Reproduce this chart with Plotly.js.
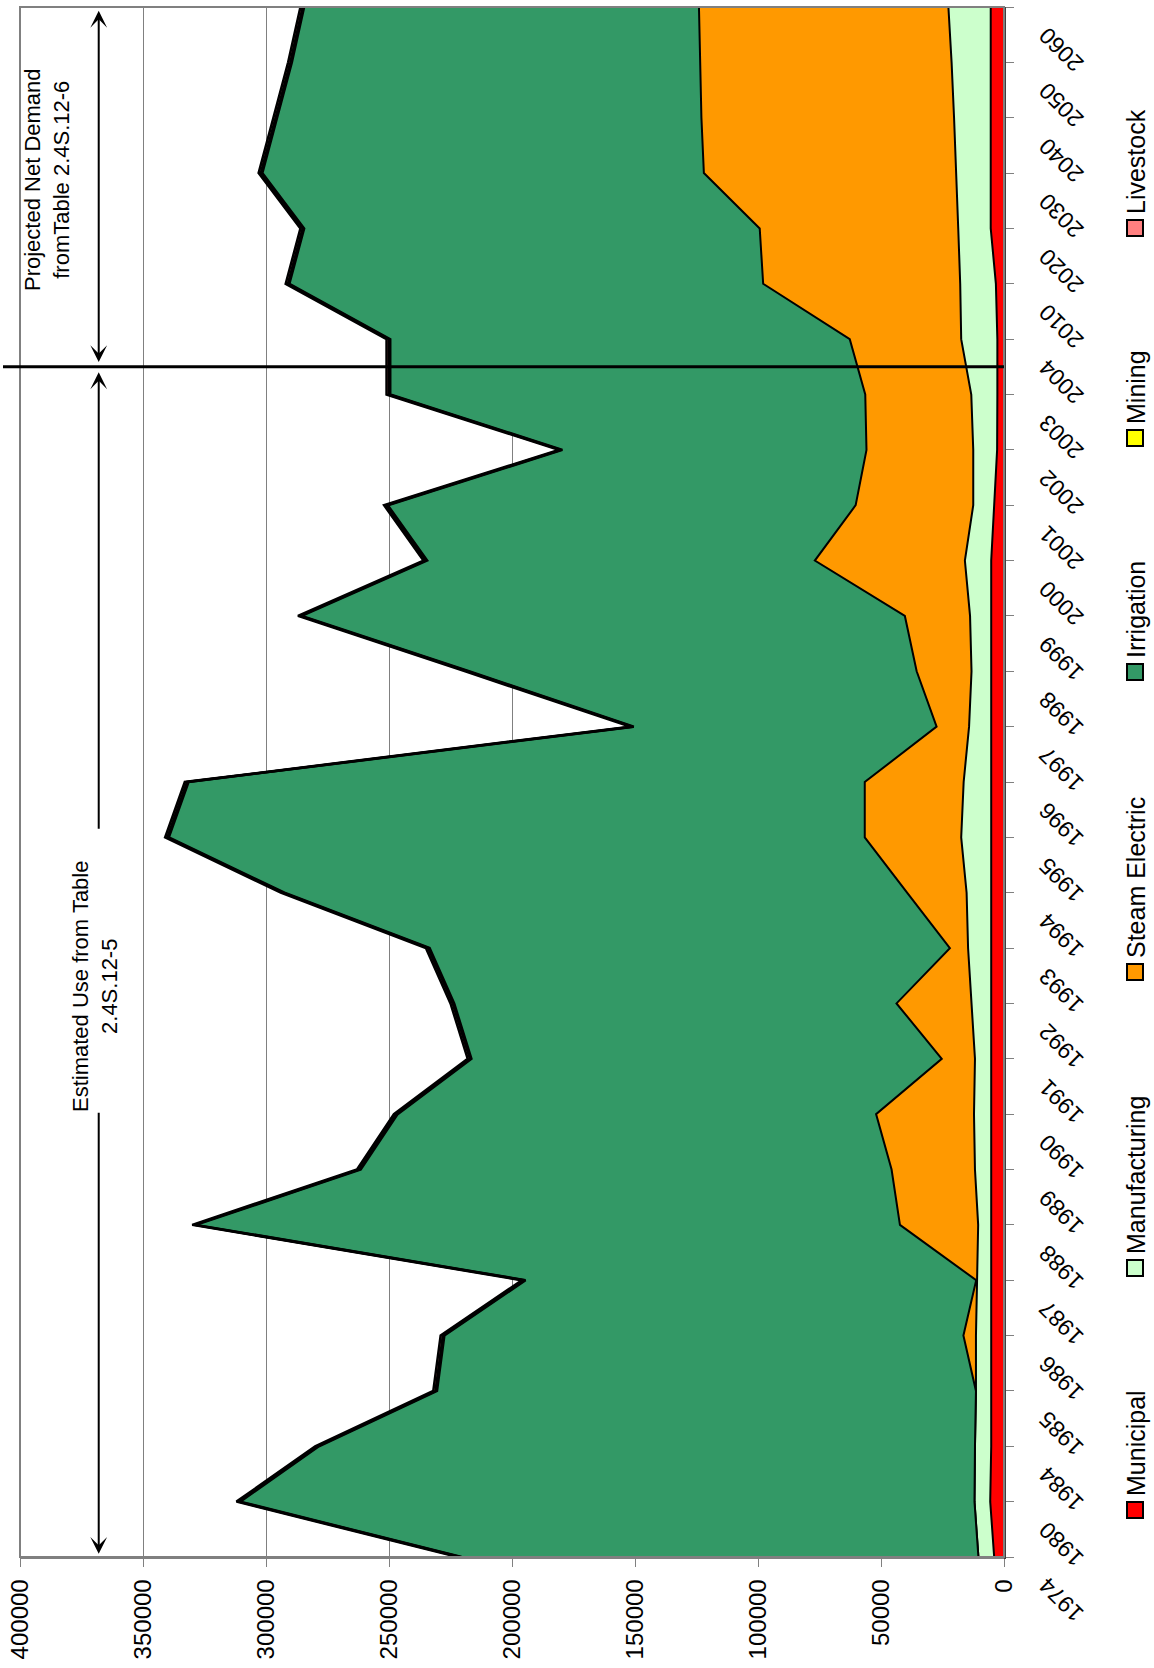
<!DOCTYPE html>
<html>
<head>
<meta charset="utf-8">
<script src="https://cdn.plot.ly/plotly-3.0.1.min.js"></script>
<style>
  html, body { margin: 0; padding: 0; background: #fff; }
  body { width: 1154px; height: 1668px; overflow: hidden; position: relative; }
  /* the chart is laid out in landscape and turned a quarter turn counter-clockwise */
  #chart {
    position: absolute; left: 0; top: 0;
    width: 1668px; height: 1154px;
    transform-origin: 0 0;
    transform: translate(0px, 1668px) rotate(-90deg);
  }
</style>
</head>
<body>
<div id="chart"></div>
<script>
// Water use by category (acre-feet), estimated 1974-2004 and projected 2010-2060
const years = ['1974','1980','1984','1985','1986','1987','1988','1989','1990','1991',
               '1992','1993','1994','1995','1996','1997','1998','1999','2000','2001',
               '2002','2003','2004','2010','2020','2030','2040','2050','2060'];

const municipal = [4000,5600,5200,5200,5200,5200,5200,5200,5200,5200,
                   5200,5200,5200,5200,5200,5200,5200,5200,5200,4000,
                   2800,2700,2700,3300,5400,5400,5400,5400,5400];

const manufacturing = [6400,6400,6600,6200,6200,5600,5300,6600,7000,6600,
                       8100,9400,10000,12200,11200,9000,8000,8600,10700,8500,
                       9700,10600,14700,14500,13200,13900,14900,15900,17200];

const steamElectric = [0,0,0,0,5100,500,31800,33900,39800,13500,
                       30400,7400,24200,39200,40200,13200,22300,26500,61000,47800,
                       43400,43100,45300,80100,80700,102700,102700,102200,101400];

const irrigation = [210100,298500,266700,219100,211000,183200,286200,215800,194500,191200,
                    179800,211500,253100,282900,274900,123100,182000,245200,157600,190200,
                    123600,193100,186800,192600,185200,179500,172500,166000,160500];

const mining = [600,600,600,600,600,600,600,600,600,600,
                600,600,600,600,600,600,600,600,600,600,
                600,600,600,600,600,600,600,600,600];

const livestock = [900,900,900,900,900,900,900,900,900,900,
                   900,900,900,900,900,900,900,900,900,900,
                   900,900,900,900,900,900,900,900,900];

const seriesNames = ['Municipal','Manufacturing','Steam Electric','Irrigation','Mining','Livestock'];
const seriesColors = ['#FF0000','#CCFFCC','#FF9900','#339966','#FFFF00','#FF8080'];
const seriesValues = [municipal, manufacturing, steamElectric, irrigation, mining, livestock];
const borderWidths = [2, 2, 2, 2.5, 2.5, 2.5];

const traces = seriesValues.map((vals, k) => ({
  type: 'scatter',
  mode: 'lines',
  name: seriesNames[k],
  x: years,
  y: vals,
  stackgroup: 'use',
  fillcolor: seriesColors[k],
  line: { color: '#000000', width: borderWidths[k], shape: 'linear' },
  hoverinfo: 'skip'
}));

// landscape geometry
const W = 1668, H = 1154;
const M = { l: 111, r: 7, t: 20, b: 150 };
const plotW = W - M.l - M.r, plotH = H - M.t - M.b;
const px = x => (x - M.l) / plotW;            // pixel x -> paper x
const py = y => (H - M.b - y) / plotH;        // pixel y -> paper y

// legend, laid out by hand below the plot
const legendCenters = [158, 400, 696, 996, 1230, 1440];
const legendY = 1135, sw = 16;
const legendShapes = legendCenters.map((c, k) => ({
  type: 'rect', xref: 'paper', yref: 'paper',
  x0: px(c - sw / 2), x1: px(c + sw / 2),
  y0: py(legendY + sw / 2), y1: py(legendY - sw / 2),
  fillcolor: seriesColors[k], line: { color: '#000', width: 2 }
}));
const legendLabels = legendCenters.map((c, k) => ({
  xref: 'paper', yref: 'paper',
  x: px(c + sw / 2 + 4), y: py(legendY + 1),
  xanchor: 'left', yanchor: 'middle',
  text: seriesNames[k], showarrow: false,
  font: { size: 25, color: '#000' }
}));

const arrowY = 368000;
const arrowStyle = {
  xref: 'x', yref: 'y', axref: 'x', ayref: 'y',
  text: '', showarrow: true, arrowhead: 3, arrowsize: 1.4, arrowwidth: 2,
  arrowcolor: '#000', standoff: 0, startstandoff: 0
};

const annotations = [
  Object.assign({}, arrowStyle, { x: 0.06, y: arrowY, ax: 8.05, ay: arrowY }),
  Object.assign({}, arrowStyle, { x: 21.4, y: arrowY, ax: 13.13, ay: arrowY }),
  Object.assign({}, arrowStyle, { x: 27.93, y: arrowY, ax: 21.56, ay: arrowY,
                                  arrowside: 'end+start', startarrowhead: 3, startarrowsize: 1.4 }),
  { xref: 'x', yref: 'y', x: 10.3, y: 369500, showarrow: false, align: 'center',
    text: 'Estimated Use from Table<br>2.4S.12-5', font: { size: 22, color: '#000' } },
  { xref: 'x', yref: 'y', x: 24.89, y: 389000, showarrow: false, align: 'center',
    text: 'Projected Net Demand<br>fromTable 2.4S.12-6', font: { size: 22, color: '#000' } }
].concat(legendLabels);

const shapes = [
  { type: 'rect', xref: 'paper', yref: 'paper', x0: 0, x1: 1, y0: 0, y1: 1,
    line: { color: '#808080', width: 2 }, layer: 'above' },
  // boundary between estimated and projected years
  { type: 'line', xref: 'x', yref: 'paper', x0: 21.5, x1: 21.5, y0: 0, y1: py(3),
    line: { color: '#000', width: 3 }, layer: 'above' }
].concat(legendShapes);

const layout = {
  width: W, height: H,
  margin: { l: M.l, r: M.r, t: M.t, b: M.b, pad: 0 },
  paper_bgcolor: '#ffffff', plot_bgcolor: '#ffffff',
  showlegend: false,
  font: { family: 'Liberation Sans, Arial, sans-serif', color: '#000', size: 22 },
  xaxis: {
    type: 'category', categoryorder: 'array', categoryarray: years,
    range: [0, years.length - 1], fixedrange: true,
    showgrid: false, zeroline: false,
    showline: true, linecolor: '#404040', linewidth: 1.5,
    ticks: 'outside', ticklen: 8, tickwidth: 1, tickcolor: '#808080',
    tickangle: -45, tickfont: { size: 23, color: '#000' },
    ticklabelstandoff: 11, ticklabelshift: -27
  },
  yaxis: {
    range: [0, 400000], tick0: 0, dtick: 50000, tickformat: 'd', fixedrange: true,
    showgrid: true, gridcolor: '#808080', gridwidth: 1, zeroline: false,
    showline: true, linecolor: '#808080', linewidth: 1.5,
    ticks: 'outside', ticklen: 8, tickwidth: 1, tickcolor: '#808080',
    ticklabelstandoff: 8, tickfont: { size: 24, color: '#000' }
  },
  shapes: shapes,
  annotations: annotations
};

Plotly.newPlot('chart', traces, layout, { staticPlot: true, displayModeBar: false });
</script>
</body>
</html>
